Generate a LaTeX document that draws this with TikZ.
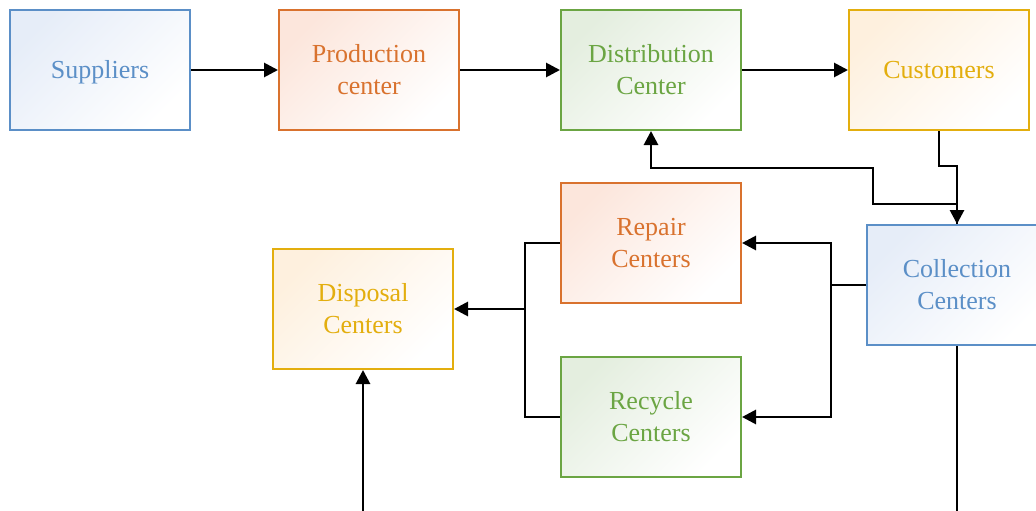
\documentclass[tikz,border=0pt]{standalone}
\usepackage{fontspec}
\setmainfont{Liberation Serif}
\usetikzlibrary{arrows.meta}
\definecolor{cblue}{HTML}{5B8FC7}
\definecolor{corange}{HTML}{D9722E}
\definecolor{cgreen}{HTML}{6BA543}
\definecolor{cgold}{HTML}{E3AE0E}
\definecolor{tblue}{HTML}{E6EDF8}
\definecolor{torange}{HTML}{FCE6DC}
\definecolor{tgreen}{HTML}{E4EEDF}
\definecolor{tgold}{HTML}{FEF0DE}
\tikzset{
  box/.style 2 args={draw=#1, text=#1, line width=2pt,
    minimum width=180pt, minimum height=120pt,
    inner sep=0pt, align=center, font=\fontsize{26}{32}\selectfont,
    preaction={shade, top color=#2, bottom color=white, shading angle=45}},
  bluebox/.style={box={cblue}{tblue}},
  orangebox/.style={box={corange}{torange}},
  greenbox/.style={box={cgreen}{tgreen}},
  goldbox/.style={box={cgold}{tgold}},
  oneline/.style={text height=17pt, text depth=0pt},
  link/.style={line width=2.8pt, black},
  arr/.style={link, -{Triangle[length=14pt,width=14pt]}}
}
\begin{document}
\begin{tikzpicture}[x=1pt, y=-1pt]
\useasboundingbox (0,0) rectangle (1036,511);
\clip (0,0) rectangle (1036,511);
\fill[white] (0,0) rectangle (1036,511);

% supply chain (forward flow)
\node[bluebox, oneline] (sup)  at (100,70) {Suppliers};
\node[orangebox]        (prod) at (369,70) {Production\\center};
\node[greenbox]         (dist) at (651,70) {Distribution\\Center};
\node[goldbox, oneline] (cust) at (939,70) {Customers};

% reverse flow
\node[orangebox] (rep)  at (651,243) {Repair\\Centers};
\node[greenbox]  (rec)  at (651,417) {Recycle\\Centers};
\node[goldbox]   (disp) at (363,309) {Disposal\\Centers};
\node[bluebox]   (coll) at (957,285) {Collection\\Centers};

\coordinate (bus1) at (831,285);
\coordinate (bus2) at (525,309);

\draw[arr] (sup.east) -- (prod.west);
\draw[arr] (prod.east) -- (dist.west);
\draw[arr] (dist.east) -- (cust.west);

\draw[arr] (cust.south) -- ++(0,35) -| (coll.north);
\draw[arr] (coll.north) -- ++(0,-20) -- ++(-84,0) -- ++(0,-36) -| (dist.south);

\draw[link] (coll.west) -- (bus1);
\draw[arr] (bus1) |- (rep.east);
\draw[arr] (bus1) |- (rec.east);

\draw[link] (rep.west) -| (bus2);
\draw[link] (rec.west) -| (bus2);
\draw[arr] (bus2) -- (disp.east);

\draw[arr] (coll.south) -- ++(0,200) -| (disp.south);
\end{tikzpicture}
\end{document}
